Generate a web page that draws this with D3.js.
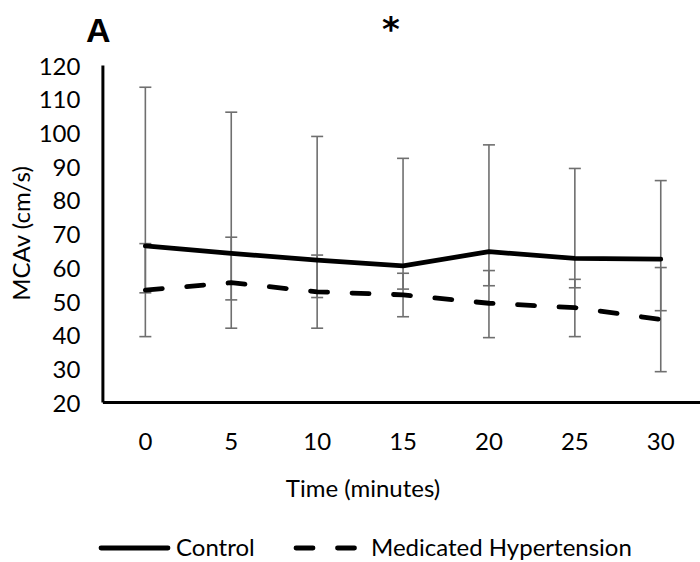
<!DOCTYPE html>
<html>
<head>
<meta charset="utf-8">
<script src="https://cdn.jsdelivr.net/npm/d3@7"></script>
<style>
  body { margin: 0; background: #fff; }
  svg { display: block; }
  text { font-family: Lato, "Open Sans", sans-serif; fill: #000; }
</style>
</head>
<body>
<div id="chart"></div>
<script>
// data
var times = [0, 5, 10, 15, 20, 25, 30];
var yTicks = [20, 30, 40, 50, 60, 70, 80, 90, 100, 110, 120];

var controlMean  = [66.3, 64.1, 62.1, 60.4, 64.6, 62.6, 62.4];
var controlUpper = [113.4, 106.0, 98.8, 92.3, 96.3, 89.3, 85.7];
var controlLower = [52.4, 50.3, 51.0, 53.5, 54.5, 53.9, 47.1];

var medMean  = [53.2, 55.4, 52.7, 51.8, 49.3, 48.0, 44.5];
var medUpper = [67.0, 68.9, 63.6, 58.2, 59.0, 56.4, 59.9];
var medLower = [39.4, 41.9, 41.9, 45.3, 39.1, 39.4, 29.0];

var W = 700, H = 562;
var LINE_W = 4.8;
var BAR_COLOR = "#6f6f6f";

var svg = d3.select("#chart")
  .append("svg")
  .attr("width", W)
  .attr("height", H);

// scales: category axis like the spreadsheet, one band per time point
var x = d3.scaleBand()
  .domain(times)
  .range([102.4, 703.7]);
var cx = function(t) { return x(t) + x.bandwidth() / 2; };

var y = d3.scaleLinear()
  .domain([20, 120])
  .range([402, 65]);

// y axis
var yAxis = d3.axisLeft(y).tickValues(yTicks).tickSize(0).tickPadding(22);
var gy = svg.append("g")
  .attr("transform", "translate(" + x.range()[0] + ",0)")
  .call(yAxis);
gy.select(".domain").attr("stroke", "#000").attr("stroke-width", 3);
gy.selectAll("text")
  .style("font-size", "24px")
  .attr("dy", "0.38em");

// x axis
var xAxis = d3.axisBottom(x).tickSize(0).tickPadding(31);
var gx = svg.append("g")
  .attr("transform", "translate(0," + y(20) + ")")
  .call(xAxis);
gx.select(".domain").attr("stroke", "#000").attr("stroke-width", 3);
gx.selectAll("text").style("font-size", "24px");

// axis titles
svg.append("text")
  .attr("x", 363)
  .attr("y", 497)
  .attr("text-anchor", "middle")
  .style("font-size", "24px")
  .text("Time (minutes)");

svg.append("text")
  .attr("transform", "translate(30," + ((y(20) + y(120)) / 2) + ") rotate(-90)")
  .attr("text-anchor", "middle")
  .style("font-size", "24px")
  .text("MCAv (cm/s)");

// panel letter and significance star
svg.append("text")
  .attr("x", 86)
  .attr("y", 42)
  .style("font-family", "'Liberation Sans', Arial, sans-serif")
  .style("font-weight", "bold")
  .style("font-size", "34px")
  .text("A");

svg.append("text")
  .attr("x", 391)
  .attr("y", 41)
  .attr("text-anchor", "middle")
  .style("font-family", "'DejaVu Sans', sans-serif")
  .style("font-weight", "bold")
  .style("font-size", "34px")
  .text("*");

// error bars
function errorBars(lower, upper, cls) {
  var g = svg.append("g").attr("class", cls);
  var rows = times.map(function(t, i) { return {t: t, lo: lower[i], hi: upper[i]}; });
  g.selectAll("line.stem")
    .data(rows).enter().append("line")
    .attr("class", "stem")
    .attr("x1", function(d) { return cx(d.t); })
    .attr("x2", function(d) { return cx(d.t); })
    .attr("y1", function(d) { return y(d.lo); })
    .attr("y2", function(d) { return y(d.hi); })
    .attr("stroke", BAR_COLOR)
    .attr("stroke-width", 1.6);
  ["lo", "hi"].forEach(function(k) {
    g.selectAll("line.cap-" + k)
      .data(rows).enter().append("line")
      .attr("class", "cap-" + k)
      .attr("x1", function(d) { return cx(d.t) - 6; })
      .attr("x2", function(d) { return cx(d.t) + 6; })
      .attr("y1", function(d) { return y(d[k]); })
      .attr("y2", function(d) { return y(d[k]); })
      .attr("stroke", BAR_COLOR)
      .attr("stroke-width", 1.6);
  });
}
errorBars(controlLower, controlUpper, "err-control");
errorBars(medLower, medUpper, "err-med");

// series lines
var line = d3.line()
  .x(function(d) { return cx(d.t); })
  .y(function(d) { return y(d.v); });

var controlData = times.map(function(t, i) { return {t: t, v: controlMean[i]}; });
var medData = times.map(function(t, i) { return {t: t, v: medMean[i]}; });

svg.append("path")
  .datum(controlData)
  .attr("fill", "none")
  .attr("stroke", "#000")
  .attr("stroke-width", LINE_W)
  .attr("stroke-linejoin", "round")
  .attr("stroke-linecap", "round")
  .attr("d", line);

svg.append("path")
  .datum(medData)
  .attr("fill", "none")
  .attr("stroke", "#000")
  .attr("stroke-width", LINE_W)
  .attr("stroke-linecap", "round")
  .attr("stroke-dasharray", "17,24.5")
  .attr("d", line);

// legend
var legY = 548;
svg.append("line")
  .attr("x1", 101).attr("x2", 168)
  .attr("y1", legY).attr("y2", legY)
  .attr("stroke", "#000").attr("stroke-width", LINE_W)
  .attr("stroke-linecap", "round");
svg.append("text")
  .attr("x", 176).attr("y", legY)
  .attr("dy", "0.35em")
  .style("font-size", "24px")
  .text("Control");

svg.append("line")
  .attr("x1", 296).attr("x2", 357)
  .attr("y1", legY).attr("y2", legY)
  .attr("stroke", "#000").attr("stroke-width", LINE_W)
  .attr("stroke-linecap", "round")
  .attr("stroke-dasharray", "17,24.5");
svg.append("text")
  .attr("x", 371).attr("y", legY)
  .attr("dy", "0.35em")
  .style("font-size", "24px")
  .text("Medicated Hypertension");
</script>
</body>
</html>
